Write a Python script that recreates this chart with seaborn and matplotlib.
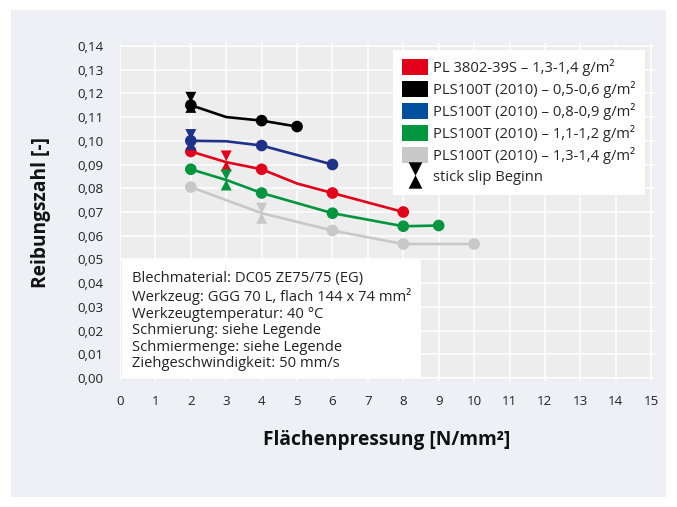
import numpy as np
import pandas as pd
import matplotlib
matplotlib.use("Agg")
import matplotlib.pyplot as plt
from matplotlib.path import Path
from matplotlib.patches import Rectangle, Patch
from matplotlib.lines import Line2D
from matplotlib.ticker import FuncFormatter
import seaborn as sns

# --- data ---
series_names = [
    "PL 3802-39S \u2013 1,3-1,4 g/m\u00b2",
    "PLS100T (2010) \u2013 0,5-0,6 g/m\u00b2",
    "PLS100T (2010) \u2013 0,8-0,9 g/m\u00b2",
    "PLS100T (2010) \u2013 1,1-1,2 g/m\u00b2",
    "PLS100T (2010) \u2013 1,3-1,4 g/m\u00b2",
]
series_colors = ["#e3001b", "#000000", "#1f3188", "#00963f", "#c8c8c8"]
legend_colors = ["#e3001b", "#000000", "#004f9f", "#00963f", "#c8c8c8"]

red_x = [2, 3, 4, 5, 6, 8]
red_y = [0.0955, 0.091, 0.088, 0.082, 0.078, 0.070]
red_mx = [2, 4, 6, 8]

black_x = [2, 3, 4, 5]
black_y = [0.115, 0.110, 0.1085, 0.106]
black_mx = [2, 4, 5]

blue_x = [2, 3, 4, 6]
blue_y = [0.100, 0.0998, 0.098, 0.090]
blue_mx = [2, 4, 6]

green_x = [2, 3, 4, 6, 8, 9]
green_y = [0.088, 0.0835, 0.078, 0.0695, 0.064, 0.0643]
green_mx = [2, 4, 6, 8, 9]

gray_x = [2, 4, 6, 8, 10]
gray_y = [0.0805, 0.0695, 0.0622, 0.0565, 0.0565]
gray_mx = [2, 6, 8, 10]

# stick slip onset (one per series, same order as series_names)
slip_x = [3, 2, 2, 3, 4]
slip_y = [0.0915, 0.1162, 0.1005, 0.0835, 0.0695]

info_lines = [
    "Blechmaterial: DC05 ZE75/75 (EG)",
    "Werkzeug: GGG 70 L, flach 144 x 74 mm\u00b2",
    "Werkzeugtemperatur: 40 \u00b0C",
    "Schmierung: siehe Legende",
    "Schmiermenge: siehe Legende",
    "Ziehgeschwindigkeit: 50 mm/s",
]

x_ticks = list(range(0, 16))
y_ticks = [i / 100 for i in range(0, 15)]

# --- style ---
sns.set_theme(style="white")
plt.rcParams["font.family"] = ["Open Sans", "DejaVu Sans"]

fig = plt.figure(figsize=(6.77, 5.07), dpi=100, facecolor="white")
fig.patches.append(Rectangle((11 / 677, 10 / 507), 655 / 677, 487 / 507,
                             transform=fig.transFigure, facecolor="#eff0f5",
                             edgecolor="none", zorder=-10))
ax = fig.add_axes([120 / 677, 1 - 381 / 507, 534 / 677, 338 / 507])
ax.set_facecolor("#ecedec")

# hourglass marker: two triangles meeting at their tips
hw = 0.52
hourglass = Path([(-hw, 1), (hw, 1), (0, -0.02), (-hw, 1),
                  (0, 0.02), (hw, -1), (-hw, -1), (0, 0.02)],
                 [Path.MOVETO, Path.LINETO, Path.LINETO, Path.CLOSEPOLY,
                  Path.MOVETO, Path.LINETO, Path.LINETO, Path.CLOSEPOLY])

all_x = [red_x, black_x, blue_x, green_x, gray_x]
all_y = [red_y, black_y, blue_y, green_y, gray_y]
all_mx = [red_mx, black_mx, blue_mx, green_mx, gray_mx]

for i in range(len(series_names)):
    df = pd.DataFrame({"x": all_x[i], "y": all_y[i]})
    sns.lineplot(data=df, x="x", y="y", color=series_colors[i], linewidth=1.9,
                 sort=False, ax=ax, zorder=3)
    mdf = df[df["x"].isin(all_mx[i])]
    sns.scatterplot(data=mdf, x="x", y="y", color=series_colors[i], s=70,
                    edgecolor="none", ax=ax, zorder=4)
    sns.scatterplot(x=[slip_x[i]], y=[slip_y[i]], color=series_colors[i],
                    marker=hourglass, s=230, edgecolor="none", ax=ax, zorder=5)

ax.set_xlim(0, 15.08)
ax.set_ylim(-0.0012, 0.1412)
ax.set_xticks(x_ticks)
ax.set_yticks(y_ticks)
ax.yaxis.set_major_formatter(FuncFormatter(lambda v, p: f"{v:.2f}".replace(".", ",")))
ax.tick_params(axis="x", length=0, labelsize=9.6, colors="#222222", pad=10)
ax.tick_params(axis="y", length=0, labelsize=9.6, colors="#222222", pad=12)
ax.grid(True, color="white", linewidth=1.1)
ax.set_axisbelow(True)
for s in ax.spines.values():
    s.set_visible(False)

ax.set_xlabel("Fl\u00e4chenpressung [N/mm\u00b2]", fontsize=13.8, fontweight="bold",
              color="#111111", labelpad=16)
ax.set_ylabel("Reibungszahl [-]", fontsize=13.8, fontweight="bold",
              color="#111111", labelpad=19)

# legend
handles = [Patch(facecolor=c, edgecolor="none") for c in legend_colors]
handles.append(Line2D([], [], linestyle="none", marker=hourglass, color="black",
                      markersize=19, markeredgewidth=0))
labels = series_names + ["stick slip Beginn"]
leg = ax.legend(handles, labels, loc="upper right", bbox_to_anchor=(0.983, 0.979),
                fontsize=10.6, frameon=True, fancybox=False, framealpha=1,
                handlelength=1.75, handleheight=1.28, handletextpad=0.35,
                labelspacing=0.33, borderpad=0.62, borderaxespad=0)
leg.get_frame().set_edgecolor("none")
leg.get_frame().set_facecolor("white")

# info box
ax.add_patch(Rectangle((0.0037, 0.009), 0.56, 0.352, transform=ax.transAxes,
                       facecolor="white", edgecolor="none", zorder=6))
ax.text(0.0225, 0.325, "\n".join(info_lines), transform=ax.transAxes,
        fontsize=10.6, color="#222222", va="top", ha="left", linespacing=1.14,
        zorder=7)

fig.savefig("out.png", dpi=100, facecolor="white")
